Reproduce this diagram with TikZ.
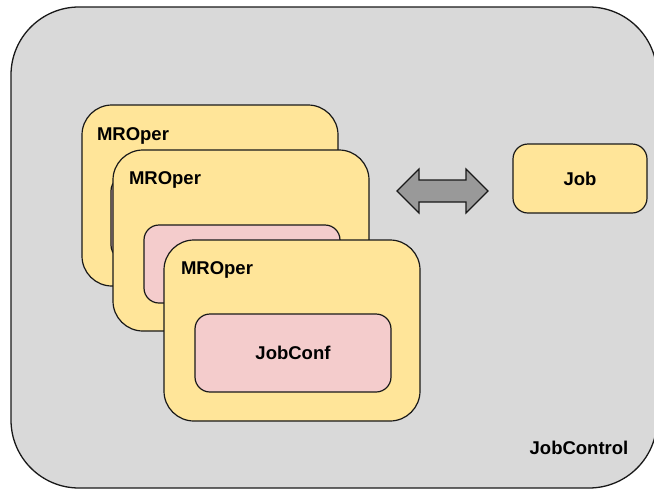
\documentclass[tikz,border=0pt]{standalone}
\usepackage{fontspec}
\setmainfont{Liberation Sans}
\definecolor{ctrlgray}{HTML}{D9D9D9}
\definecolor{operyellow}{HTML}{FFE599}
\definecolor{confpink}{HTML}{F4CCCC}
\definecolor{arrowgray}{HTML}{999999}
\begin{document}
\begin{tikzpicture}[x=1pt,y=-1pt,
  every node/.style={inner sep=0pt, outer sep=0pt},
  lbl/.style={font=\fontsize{18.5}{20}\selectfont\bfseries},
  ctrlbox/.style={draw=black!90, line width=1.3pt, fill=ctrlgray, rounded corners=68pt},
  operbox/.style={draw=black!90, line width=1.2pt, fill=operyellow, rounded corners=30pt,
    anchor=north west, minimum width=256pt, minimum height=181pt},
  confbox/.style={draw=black!90, line width=1.2pt, fill=confpink, rounded corners=15pt,
    anchor=north west, minimum width=196pt, minimum height=78pt, lbl},
  jobbox/.style={draw=black!90, line width=1.2pt, fill=operyellow, rounded corners=15pt,
    anchor=north west, minimum width=134pt, minimum height=69pt, lbl},
  dblarrow/.style={draw=black!90, line width=1.2pt, fill=arrowgray, line join=miter}
]
\useasboundingbox (0,0) rectangle (654,491);

% JobControl container
\draw[ctrlbox] (11,7) rectangle (657,488);
\node[lbl] (ctrl) at (579,448) {JobControl};

% Job box
\node[jobbox] (job) at (513,144) {Job};

% two-way exchange arrow
\coordinate (arr) at (442.5,191);
\draw[dblarrow] (arr) ++(-45.5,0) -- ++(22,-22) -- ++(0,11) -- ++(47,0) -- ++(0,-11)
  -- ++(22,22) -- ++(-22,22) -- ++(0,-11) -- ++(-47,0) -- ++(0,11) -- cycle;

% stack of MROper boxes, each holding a JobConf
\node[operbox] (op1) at (82,105) {};
\node[confbox, minimum height=84pt] (conf1) at (111,176) {};
\node[lbl, anchor=base west] (t1) at (97,140) {MROper};

\node[operbox] (op2) at (113,150) {};
\node[confbox] (conf2) at (144,225) {};
\node[lbl, anchor=base west] (t2) at (129,184) {MROper};

\node[operbox] (op3) at (164,240) {};
\node[confbox] (conf3) at (195,314) {JobConf};
\node[lbl, anchor=base west] (t3) at (181,274) {MROper};
\end{tikzpicture}
\end{document}
